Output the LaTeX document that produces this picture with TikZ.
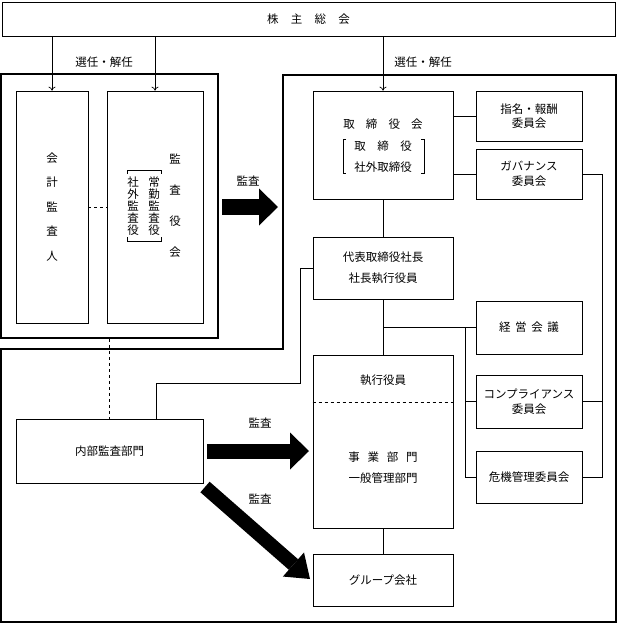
\documentclass[tikz,border=0pt]{standalone}
\usepackage{fontspec}
\setmainfont{Noto Sans CJK JP}
\usetikzlibrary{arrows.meta}
\begin{document}
\begin{tikzpicture}[x=1pt,y=-1pt,
  txt/.style={font=\fontsize{11.5}{14}\selectfont},
  box/.style={draw, line width=0.7pt, inner sep=0pt, align=center, txt},
  frame/.style={draw, line width=1.5pt},
  conn/.style={line width=0.7pt},
  sel/.style={conn, -{To[length=4pt,width=7pt]}},
  lbl/.style={inner sep=0pt, align=center, txt},
]
\useasboundingbox (0,0) rectangle (617,624);

% frames
\node[frame, minimum width=217pt, minimum height=264pt, inner sep=0pt] (lf) at (109.5,206) {};
\draw[frame] (283,75) -- (616,75) -- (616,622) -- (1,622) -- (1,349) -- (283,349) -- cycle;

% boxes
\node[box, minimum width=613pt, minimum height=34pt] (gm) at (308.5,19) {株\hspace{1.07em}主\hspace{1.07em}総\hspace{1.07em}会};
\node[box, minimum width=72pt, minimum height=232pt, font=\fontsize{11.5}{24.5}\selectfont] (kaikei) at (52,207) {会\\計\\監\\査\\人};
\node[box, minimum width=96pt, minimum height=232pt] (kansa) at (155,207) {};
\node[lbl, font=\fontsize{11.5}{31}\selectfont] (kansaT) at (175,206) {監\\査\\役\\会};
\node[lbl, font=\fontsize{11.5}{12}\selectfont] (jokin) at (154,206) {常\\勤\\監\\査\\役};
\node[lbl, font=\fontsize{11.5}{12}\selectfont] (shagai) at (133,206) {社\\外\\監\\査\\役};
\draw[conn] (127,174) -- (127,170) -- (161,170) -- (161,174);
\draw[conn] (127,237) -- (127,241) -- (161,241) -- (161,237);

\node[box, minimum width=140pt, minimum height=108pt] (tori) at (383,145) {};
\node[lbl] (toriT) at (383,124) {取\hspace{0.96em}締\hspace{0.96em}役\hspace{0.96em}会};
\node[lbl] (toriA) at (383,146) {取\hspace{1em}締\hspace{1em}役};
\node[lbl] (toriB) at (383,167) {社外取締役};
\draw[conn] (346,139) -- (343,139) -- (343,173) -- (346,173);
\draw[conn] (421,139) -- (424,139) -- (424,173) -- (421,173);

\node[box, minimum width=106pt, minimum height=50pt] (shimei) at (529,116) {指名・報酬\\委員会};
\node[box, minimum width=106pt, minimum height=50pt, font=\fontsize{11.5}{15}\selectfont] (gov) at (529,174) {ガバナンス\\委員会};
\node[box, minimum width=140pt, minimum height=62pt, font=\fontsize{11.5}{21}\selectfont] (daihyo) at (383,268) {代表取締役社長\\社長執行役員};
\node[box, minimum width=106pt, minimum height=53pt] (keiei) at (529,327.5) {経\hspace{0.4em}営\hspace{0.4em}会\hspace{0.4em}議};
\node[box, minimum width=106pt, minimum height=53pt, font=\fontsize{11.5}{15}\selectfont] (comp) at (529,401.5) {コンプライアンス\\委員会};
\node[box, minimum width=106pt, minimum height=52pt] (kiki) at (529,477) {危機管理委員会};
\node[box, minimum width=140pt, minimum height=173pt] (shikko) at (383,441.5) {};
\node[lbl] (shikkoT) at (383,380) {執行役員};
\node[lbl, font=\fontsize{11.5}{21}\selectfont] (jigyo) at (383,467.5) {事\hspace{0.67em}業\hspace{0.67em}部\hspace{0.67em}門\\一般管理部門};
\node[box, minimum width=140pt, minimum height=52pt] (group) at (383,580) {グループ会社};
\node[box, minimum width=187pt, minimum height=64pt] (naibu) at (109.5,451) {内部監査部門};

% labels
\node[lbl] (sel1) at (104,62) {選任・解任};
\node[lbl] (sel2) at (423,62) {選任・解任};
\node[lbl] (k1) at (248,181) {監査};
\node[lbl] (k2) at (260,423) {監査};
\node[lbl] (k3) at (260,499) {監査};

% election arrows
\draw[sel] (gm.south -| kaikei.north) -- (kaikei.north);
\draw[sel] (gm.south -| kansa.north) -- (kansa.north);
\draw[sel] (gm.south -| tori.north) -- (tori.north);

% connectors
\coordinate (rb) at (602,300);
\coordinate (lb) at (465,300);
\coordinate (nb) at (300,383);
\coordinate (nt) at (156,419);
\draw[conn] (tori.east |- shimei.west) -- (shimei.west);
\draw[conn] (tori.east |- gov.west) -- (gov.west);
\draw[conn] (gov.east) -- (gov.east -| rb) -- (kiki.east -| rb) -- (kiki.east);
\draw[conn] (comp.east) -- (comp.east -| rb);
\draw[conn] (tori.south) -- (daihyo.north);
\draw[conn] (daihyo.south) -- (shikko.north);
\draw[conn] (daihyo.south |- keiei.west) -- (keiei.west);
\draw[conn] (keiei.west -| lb) -- (kiki.west -| lb) -- (kiki.west);
\draw[conn] (comp.west -| lb) -- (comp.west);
\draw[conn] (shikko.south) -- (group.north);
\draw[conn] (daihyo.west) -- (daihyo.west -| nb) -- (nb) -- (nb -| nt) -- (nt);
\draw[conn, dashed] (lf.south) -- (naibu.north);
\draw[conn, dashed] (kaikei.east) -- (kansa.west);
\draw[conn, dashed] (shikko.west |- 0,402) -- (shikko.east |- 0,402);

% big arrows
\coordinate (a1s) at (222,207);
\coordinate (a1e) at (278,207);
\coordinate (a2s) at (207,451);
\coordinate (a2e) at (309,451);
\coordinate (a3s) at (205,487);
\coordinate (a3e) at (310,579);
\draw[line width=16pt, -{Triangle[length=19pt,width=37pt,line width=0pt]}] (a1s) -- (a1e);
\draw[line width=15pt, -{Triangle[length=19pt,width=37pt,line width=0pt]}] (a2s) -- (a2e);
\draw[line width=14pt, -{Triangle[length=22pt,width=32pt,line width=0pt]}] (a3s) -- (a3e);
\end{tikzpicture}
\end{document}
